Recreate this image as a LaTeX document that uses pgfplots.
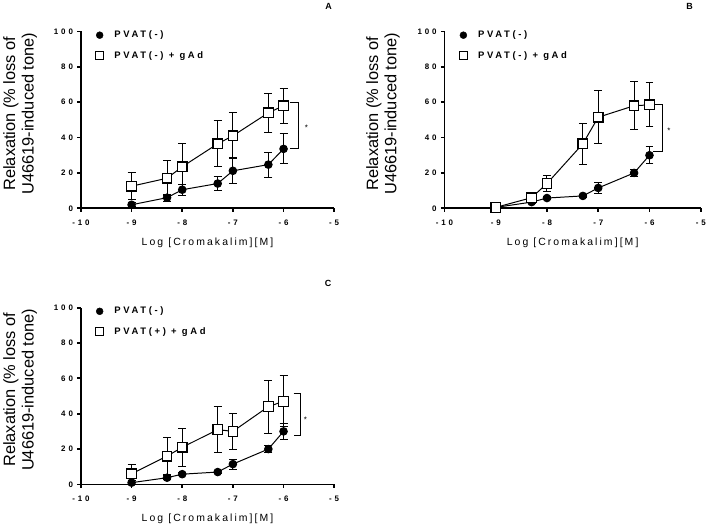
\documentclass[border=0pt]{standalone}
\usepackage{fontspec}
\setmainfont{Liberation Sans}
\newfontfamily\tickf{Liberation Sans}[LetterSpace=36]
\newfontfamily\legf{Liberation Sans}[LetterSpace=28]
\newfontfamily\xlabf{Liberation Sans}[LetterSpace=20]
\usepackage{pgfplots}
\pgfplotsset{compat=1.18}

\pgfplotstableread{
x y e
-9 2 1
-8.3 6 2
-8 10.5 3
-7.3 14 4
-7 21.2 7.4
-6.3 24.7 7
-6 33.6 8.5
}\Acirc
\pgfplotstableread{
x y e
-9 12.5 7.5
-8.3 17 10
-8 23.5 13
-7.3 36.5 13
-7 41 13
-6.3 54 11
-6 58 10
}\Asq
\pgfplotstableread{
x y e
-9 0.5 0.5
-8.3 3.5 1
-8 5.8 1
-7.3 7 1
-7 11.5 3
-6.3 20 2
-6 30 4.7
}\Bcirc
\pgfplotstableread{
x y e
-9 0.5 0.8
-8.3 6 1
-8 14 4.5
-7.3 36.5 11.5
-7 51.5 15
-6.3 58 13.5
-6 58.5 12.5
}\Bsq
\pgfplotstableread{
x y e
-9 1 1
-8.3 3.8 1
-8 5.8 1
-7.3 7 1
-7 11.5 2.8
-6.3 20 2
-6 30 4.4
}\Ccirc
\pgfplotstableread{
x y e
-9 6 5
-8.3 16 10.3
-8 21 10.7
-7.3 31 13
-7 30 10.2
-6.3 44 15
-6 47 14.5
}\Csq

\pgfplotsset{
 panel/.style={
  scale only axis, height=178pt,
  xmin=-10, xmax=-5, ymin=0, ymax=100,
  axis x line*=bottom, axis y line*=left,
  axis line style={line width=1.8pt, -},
  xtick={-10,-9,-8,-7,-6,-5}, xticklabels={-10,-9,-8,-7,-6,-5},
  ytick={0,20,40,60,80,100}, yticklabels={0,20,40,60,80,100},
  tick align=outside, major tick length=3.5pt,
  tick style={line width=1.8pt, black},
  tick label style={font=\tickf\bfseries\fontsize{8}{9}\selectfont},
  xticklabel style={yshift=-4.5pt},
  yticklabel style={xshift=-1pt},
  clip=false,
  xlabel={Log [Cromakalim][M]},
  xlabel style={font=\xlabf\fontsize{10.5}{12}\selectfont, at={(axis description cs:0.5,0)}, anchor=center, yshift=-35pt},
  ylabel={Relaxation (\% loss of\\U46619-induced tone)},
  ylabel style={font=\fontsize{16.5}{18.5}\selectfont, align=center, at={(axis description cs:-0.24,0.535)}, anchor=center},
  legend style={draw=none, fill=none, at={(axis description cs:0.058,1.015)}, anchor=north west,
     font=\legf\bfseries\fontsize{9.5}{11}\selectfont, row sep=8pt, inner sep=0pt},
  legend cell align=left,
 },
 errs/.style={
   /pgfplots/error bars/y dir=both, /pgfplots/error bars/y explicit,
   /pgfplots/error bars/error bar style={line width=1pt, black},
   /pgfplots/error bars/error mark options={line width=1pt, mark size=4pt, black, rotate=90}},
 circ/.style={black, line width=1pt, mark=*, mark size=3.8pt, mark options={solid, fill=black}, errs, forget plot},
 sq/.style={black, line width=1pt, mark=square*, mark size=4.8pt, mark options={solid, fill=white, line width=1.2pt}, errs, forget plot},
 legc/.style={only marks, mark=*, mark size=3.5pt, black},
 legs/.style={only marks, mark=square*, mark size=3.9pt, mark options={fill=white, line width=1.3pt}, black},
}
\newcommand{\lsp}{\hspace*{9pt}}

\begin{document}
\begin{tikzpicture}
\path (0pt,0pt) rectangle (709pt,529pt);

% Panel A
\begin{axis}[panel, width=255pt, at={(79pt,320pt)}, anchor=south west]
\addlegendimage{legc}
\addlegendimage{legs}
\addplot[circ] table[x=x, y=y, y error=e] {\Acirc};
\addplot[sq] table[x=x, y=y, y error=e] {\Asq};
\legend{\lsp PVAT(-), \lsp PVAT(-) + gAd}
\draw[line width=1pt] (axis cs:-5.88,59.8) -| (axis cs:-5.7,33.6) -- (axis cs:-5.88,33.6);
\node[font=\fontsize{8}{9}\selectfont] at (axis cs:-5.55,45.6) {*};
\node[font=\bfseries\fontsize{9}{10}\selectfont] at (axis description cs:0.978,1.142) {A};
\end{axis}

% Panel B
\begin{axis}[panel, width=258pt, at={(445pt,320pt)}, anchor=south west]
\addlegendimage{legc}
\addlegendimage{legs}
\addplot[circ] table[x=x, y=y, y error=e] {\Bcirc};
\addplot[sq] table[x=x, y=y, y error=e] {\Bsq};
\legend{\lsp PVAT(-), \lsp PVAT(-) + gAd}
\draw[line width=1pt] (axis cs:-5.93,58.5) -| (axis cs:-5.74,32) -- (axis cs:-5.93,32);
\node[font=\fontsize{8}{9}\selectfont] at (axis cs:-5.62,44) {*};
\node[font=\bfseries\fontsize{9}{10}\selectfont] at (axis description cs:0.957,1.142) {B};
\end{axis}

% Panel C
\begin{axis}[panel, width=255pt, at={(79pt,42pt)}, anchor=south west]
\addlegendimage{legc}
\addlegendimage{legs}
\addplot[circ] table[x=x, y=y, y error=e] {\Ccirc};
\addplot[sq] table[x=x, y=y, y error=e] {\Csq};
\legend{\lsp PVAT(-), \lsp PVAT(+) + gAd}
\draw[line width=1pt] (axis cs:-5.8,51.4) -| (axis cs:-5.67,27.5) -- (axis cs:-5.8,27.5);
\node[font=\fontsize{8}{9}\selectfont] at (axis cs:-5.57,36.8) {*};
\node[font=\bfseries\fontsize{9}{10}\selectfont] at (axis description cs:0.976,1.135) {C};
\end{axis}
\end{tikzpicture}
\end{document}
